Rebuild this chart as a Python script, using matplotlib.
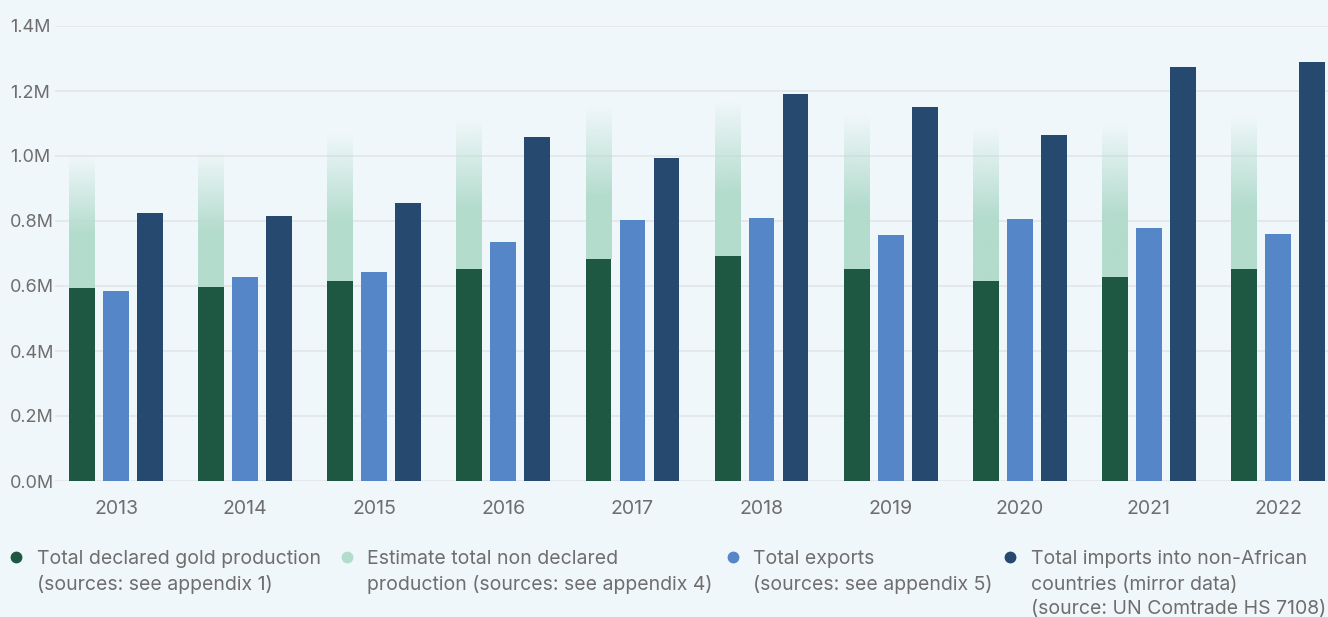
import matplotlib.pyplot as plt
from matplotlib.lines import Line2D
import numpy as np

# datos
years = ['2013', '2014', '2015', '2016', '2017', '2018', '2019', '2020', '2021', '2022']
declared = [594000, 597000, 615000, 652000, 683000, 692000, 652000, 615000, 628000, 652000]
estimate_total = [1003000, 1018000, 1070000, 1111000, 1151000, 1170000, 1126000, 1089000, 1100000, 1126000]
exports = [585000, 628000, 643000, 735000, 803000, 809000, 757000, 806000, 778000, 760000]
imports = [825000, 815000, 855000, 1058000, 994000, 1191000, 1151000, 1066000, 1274000, 1289000]

yticks = [0, 200000, 400000, 600000, 800000, 1000000, 1200000, 1400000]

legend_items = [
    ('#1e5842', ['Total declared gold production', '(sources: see appendix 1)']),
    ('#b3dccd', ['Estimate total non declared', 'production (sources: see appendix 4)']),
    ('#5587c8', ['Total exports', '(sources: see appendix 5)']),
    ('#25496f', ['Total imports into non-African', 'countries (mirror data)', '(source: UN Comtrade HS 7108)']),
]

bg = '#f0f7fa'
txt = '#6e6e6e'
green = '#1e5842'
mint = np.array([0xb3, 0xdc, 0xcd]) / 255.0
blue = '#5587c8'
navy = '#25496f'

plt.rcParams['font.family'] = ['Inter', 'DejaVu Sans']

W, H = 1328, 617
fig = plt.figure(figsize=(W / 100, H / 100), dpi=100)
fig.patch.set_facecolor(bg)

ax = fig.add_axes([55 / W, (H - 481) / H, (W - 55) / W, (481 - 26) / H])
ax.set_facecolor(bg)

x = np.arange(len(years))
w = 0.2
off = 0.263

decl = np.array(declared)
est = np.array(estimate_total)

ax.bar(x - off, decl, w, color=green, zorder=3)
ax.bar(x, exports, w, color=blue, zorder=3)
ax.bar(x + off, imports, w, color=navy, zorder=3)

# parte no declarada con degradado
est_bars = ax.bar(x - off, est - decl, w, bottom=decl, color='none', zorder=2)
t = np.linspace(1, 0, 200).reshape(-1, 1)
alpha = np.clip(t / 0.6, 0, 1)
grad = np.zeros((200, 1, 4))
grad[..., :3] = mint
grad[..., 3] = alpha
for b in est_bars:
    x0, y0 = b.get_x(), b.get_y()
    ax.imshow(grad, extent=(x0, x0 + b.get_width(), y0, y0 + b.get_height()),
              aspect='auto', origin='lower', zorder=2, interpolation='bilinear')

ax.set_xlim(-0.4725, 9.387)
ax.set_ylim(0, 1400000)
ax.set_yticks(yticks)
ax.set_yticklabels([f'{v / 1e6:.1f}M' for v in yticks])
ax.set_xticks(x)
ax.set_xticklabels(years)
ax.grid(axis='y', color='#e3e6e9', linewidth=1.2, zorder=0)
ax.set_axisbelow(True)
for s in ax.spines.values():
    s.set_visible(False)
ax.tick_params(axis='y', length=0, pad=32.4, labelsize=13, labelcolor=txt)
ax.tick_params(axis='x', length=0, pad=14, labelsize=14, labelcolor=txt)
for lab in ax.get_yticklabels():
    lab.set_ha('left')

# leyenda manual
marker_x = [16, 347, 733, 1010]
text_x = [37, 367, 753, 1031]
baselines = [564, 590, 614]
for (col, lines), mx, tx in zip(legend_items, marker_x, text_x):
    fig.add_artist(Line2D([mx / W], [(H - 557) / H], marker='o', markersize=7.5,
                          color=col, linestyle='none', transform=fig.transFigure))
    for line, yb in zip(lines, baselines):
        fig.text(tx / W, (H - yb) / H, line, fontsize=14, color=txt, va='baseline', ha='left')

fig.savefig('out.png', dpi=100, facecolor=bg)
